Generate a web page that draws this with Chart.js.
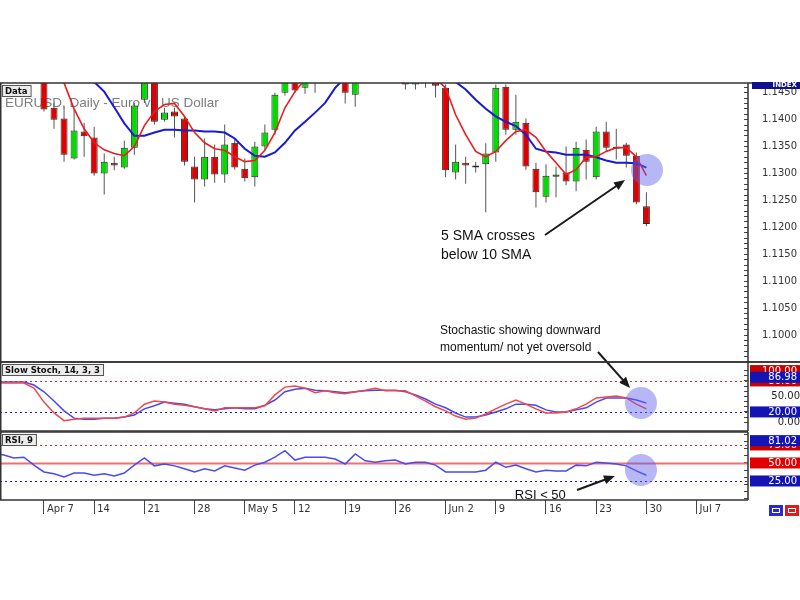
<!DOCTYPE html>
<html>
<head>
<meta charset="utf-8">
<script src="https://cdn.jsdelivr.net/npm/chart.js@4.4.1/dist/chart.umd.min.js"></script>
<style>
  html, body { margin: 0; padding: 0; background: #fff; }
  #wrap { position: relative; width: 800px; height: 600px; }
  .pane { position: absolute; left: 0; width: 800px; }
  /* panes are taller than their plot areas; layout padding puts the plot where it belongs */
  #mainBox { top: 43px; height: 357px; z-index: 3; }
  #stochBox { top: 322px; height: 149px; z-index: 1; }
  #rsiBox { top: 392px; height: 141px; z-index: 2; }
</style>
</head>
<body>
<div id="wrap">
  <div class="pane" id="mainBox"><canvas id="mainChart"></canvas></div>
  <div class="pane" id="stochBox"><canvas id="stochChart"></canvas></div>
  <div class="pane" id="rsiBox"><canvas id="rsiChart"></canvas></div>
</div>
<script>
// trading day index of the first value below (Apr 7 = day 0)
const firstDay = -5;

const weekIdx = [0, 5, 10, 15, 20, 25, 30, 35, 40, 45, 50, 55, 60, 65];
const weekLabels = ['Apr 7', '14', '21', '28', 'May 5', '12', '19', '26', 'Jun 2', '9', '16', '23', '30', 'Jul 7'];
const priceLabels = ['1.1000', '1.1050', '1.1100', '1.1150', '1.1200', '1.1250', '1.1300', '1.1350', '1.1400', '1.1450'];

const opens = [
  1.1510, 1.1520, 1.1530, 1.1515, 1.1525, 1.1495, 1.1422, 1.1402, 1.1328, 1.1378,
  1.1367, 1.1300, 1.1320, 1.1311, 1.1348, 1.1437, 1.1490, 1.1400, 1.1415, 1.1402,
  1.1313, 1.1289, 1.1331, 1.1298, 1.1357, 1.1309, 1.1293, 1.1350, 1.1381, 1.1450,
  1.1482, 1.1459, 1.1490, 1.1485, 1.1500, 1.1510, 1.1446, 1.1475, 1.1490, 1.1505,
  1.1495, 1.1478, 1.1465, 1.1480, 1.1490, 1.1459, 1.1302, 1.1320, 1.1313, 1.1317,
  1.1339, 1.1461, 1.1381, 1.1394, 1.1309, 1.1257, 1.1294, 1.1302, 1.1285, 1.1344,
  1.1293, 1.1378, 1.1348, 1.1354, 1.1333, 1.1239
];
const highs = [
  1.1535, 1.1540, 1.1540, 1.1535, 1.1530, 1.1500, 1.1431, 1.1424, 1.1420, 1.1394,
  1.1387, 1.1337, 1.1331, 1.1361, 1.1431, 1.1500, 1.1495, 1.1422, 1.1422, 1.1406,
  1.1331, 1.1365, 1.1354, 1.1391, 1.1363, 1.1328, 1.1359, 1.1391, 1.1450, 1.1485,
  1.1490, 1.1492, 1.1495, 1.1510, 1.1525, 1.1515, 1.1480, 1.1500, 1.1512, 1.1515,
  1.1505, 1.1485, 1.1490, 1.1490, 1.1495, 1.1465, 1.1354, 1.1331, 1.1322, 1.1356,
  1.1465, 1.1465, 1.1446, 1.1402, 1.1320, 1.1317, 1.1313, 1.1350, 1.1359, 1.1363,
  1.1387, 1.1396, 1.1383, 1.1357, 1.1339, 1.1265
];
const lows = [
  1.1500, 1.1510, 1.1505, 1.1505, 1.1485, 1.1415, 1.1383, 1.1322, 1.1326, 1.1331,
  1.1296, 1.1261, 1.1306, 1.1309, 1.1335, 1.1431, 1.1391, 1.1396, 1.1367, 1.1315,
  1.1246, 1.1276, 1.1283, 1.1283, 1.1307, 1.1285, 1.1276, 1.1344, 1.1372, 1.1445,
  1.1450, 1.1448, 1.1450, 1.1475, 1.1490, 1.1430, 1.1424, 1.1470, 1.1480, 1.1485,
  1.1475, 1.1456, 1.1456, 1.1459, 1.1441, 1.1293, 1.1289, 1.1281, 1.1302, 1.1228,
  1.1322, 1.1372, 1.1372, 1.1307, 1.1237, 1.1246, 1.1256, 1.1278, 1.1267, 1.1289,
  1.1289, 1.1341, 1.1326, 1.1311, 1.1243, 1.1202
];
const closes = [
  1.1520, 1.1530, 1.1515, 1.1525, 1.1495, 1.1419, 1.1400, 1.1335, 1.1380, 1.1369,
  1.1300, 1.1322, 1.1315, 1.1348, 1.1426, 1.1480, 1.1396, 1.1413, 1.1406, 1.1322,
  1.1289, 1.1331, 1.1298, 1.1354, 1.1311, 1.1291, 1.1350, 1.1376, 1.1446, 1.1478,
  1.1454, 1.1485, 1.1478, 1.1500, 1.1520, 1.1450, 1.1475, 1.1490, 1.1505, 1.1495,
  1.1490, 1.1465, 1.1480, 1.1478, 1.1463, 1.1306, 1.1322, 1.1315, 1.1311, 1.1337,
  1.1459, 1.1381, 1.1396, 1.1313, 1.1265, 1.1296, 1.1298, 1.1285, 1.1348, 1.1322,
  1.1378, 1.1348, 1.1346, 1.1333, 1.1246, 1.1206
];
const sma5 = [
  1.1530, 1.1525, 1.1520, 1.1515, 1.1505, 1.1495, 1.1482, 1.1468, 1.1420, 1.1383,
  1.1357, 1.1344, 1.1337, 1.1333, 1.1350, 1.1389, 1.1415, 1.1428, 1.1430, 1.1406,
  1.1376, 1.1357, 1.1346, 1.1343, 1.1331, 1.1322, 1.1324, 1.1343, 1.1376, 1.1422,
  1.1452, 1.1475, 1.1485, 1.1490, 1.1495, 1.1495, 1.1490, 1.1488, 1.1490, 1.1492,
  1.1490, 1.1485, 1.1482, 1.1480, 1.1476, 1.1459, 1.1409, 1.1372, 1.1341, 1.1331,
  1.1341, 1.1361, 1.1378, 1.1381, 1.1367, 1.1341, 1.1320, 1.1298, 1.1307, 1.1330,
  1.1331, 1.1341, 1.1348, 1.1348, 1.1331, 1.1296
];
const sma10 = [
  1.1570, 1.1560, 1.1550, 1.1540, 1.1530, 1.1518, 1.1508, 1.1498, 1.1490, 1.1480,
  1.1470, 1.1452, 1.1423, 1.1393, 1.1370, 1.1370, 1.1376, 1.1381, 1.1381, 1.1380,
  1.1380, 1.1378, 1.1378, 1.1376, 1.1365, 1.1346, 1.1333, 1.1331, 1.1339, 1.1357,
  1.1380, 1.1396, 1.1413, 1.1431, 1.1459, 1.1478, 1.1490, 1.1498, 1.1505, 1.1510,
  1.1512, 1.1510, 1.1505, 1.1498, 1.1490, 1.1480, 1.1470, 1.1456, 1.1437, 1.1420,
  1.1406, 1.1396, 1.1388, 1.1372, 1.1346, 1.1341, 1.1339, 1.1335, 1.1335, 1.1335,
  1.1330, 1.1324, 1.1320, 1.1320, 1.1319, 1.1311
];
const stochK = [
  76, 76, 76, 76, 66, 39, 18, 3, 6, 8,
  8, 8, 8, 10, 18, 35, 41, 39, 35, 33,
  30, 26, 22, 28, 28, 28, 28, 32, 53, 68,
  70, 66, 57, 61, 57, 55, 59, 62, 66, 61,
  61, 61, 51, 41, 30, 22, 12, 6, 8, 16,
  26, 35, 43, 35, 26, 18, 18, 20, 26, 35,
  47, 49, 51, 47, 35, 26
];
const stochD = [
  78, 78, 78, 78, 72, 59, 41, 22, 8, 6,
  6, 8, 8, 10, 14, 26, 32, 39, 37, 35,
  30, 26, 24, 26, 28, 26, 26, 33, 43, 59,
  64, 66, 62, 61, 59, 57, 59, 61, 62, 62,
  62, 59, 53, 45, 35, 28, 18, 10, 10, 14,
  20, 26, 35, 35, 33, 24, 20, 20, 24, 28,
  39, 47, 47, 47, 43, 37
];
const rsi = [
  64, 61, 57, 58, 47, 37.5, 35, 30.5, 36, 36,
  33, 35, 32, 36, 47, 57, 46, 48.6, 46, 42,
  37.5, 42, 39, 46, 43, 40, 47, 51, 58, 67,
  54, 58, 58, 58, 55.5, 48.6, 62.5, 53, 51, 53,
  54, 48.6, 51, 51, 47, 37.5, 37.5, 37.5, 37.5, 40,
  51, 44, 47, 42, 37.5, 40, 39, 39, 47, 46,
  51, 50, 48.6, 46, 39, 33
];

const stochLevels = [80, 20];
const rsiLevels = [75, 50, 25];
const stochTickVals = [0, 10, 20, 30, 40, 50, 60, 70, 80, 90, 100];
const stochLabelVals = [50, 0];
const stochLabelText = ['50.00', '0.00'];
const rsiTickVals = [0, 10, 20, 30, 40, 50, 60, 70, 80, 90];
const stochBoxVals = [100, 80, 86.98, 20];
const stochBoxText = ['100.00', '80.00', '86.98', '20.00'];
const rsiBoxVals = [75, 81.02, 50, 25];
const rsiBoxText = ['75.00', '81.02', '50.00', '25.00'];

const chartTitle = 'EURUSD, Daily - Euro vs US Dollar';
const smaNote = ['5 SMA crosses', 'below 10 SMA'];
const stochNote = ['Stochastic showing downward', 'momentum/ not yet oversold'];
const rsiNote = 'RSI < 50';

const X_MIN = -4.38, X_MAX = 70.12;
const FONT = 'DejaVu Sans';
const RED_BOX = '#c80000', BLUE_BOX = '#1414b4';

const series = arr => arr.map((v, i) => ({ x: firstDay + i, y: v }));
const at = (chart, i, v) => ({ x: chart.scales.x.getPixelForValue(i), y: chart.scales.y.getPixelForValue(v) });

function xAxis(show) {
  return {
    type: 'linear', min: X_MIN, max: X_MAX, offset: false, display: show,
    afterBuildTicks: s => { s.ticks = weekIdx.map(v => ({ value: v })); },
    afterFit: s => { if (show) s.height = 23; },
    grid: { drawOnChartArea: false, offset: false, tickLength: 14, color: '#444' },
    border: { display: false },
    ticks: {
      autoSkip: false, maxRotation: 0, align: 'start', labelOffset: 3, padding: -11,
      color: '#333', font: { family: FONT, size: 10 },
      callback: v => { const k = weekIdx.indexOf(v); return k < 0 ? '' : weekLabels[k]; }
    }
  };
}

function yAxis(min, max, tickVals, label, padding) {
  return {
    position: 'right', min: min, max: max,
    afterFit: s => { s.width = 52; },
    afterBuildTicks: s => { s.ticks = tickVals.map(v => ({ value: v })); },
    grid: { drawOnChartArea: false, tickLength: -4, color: '#444' },
    border: { display: false },
    ticks: { autoSkip: false, padding: padding, crossAlign: 'far', color: '#222', font: { family: FONT, size: 10 }, callback: label }
  };
}

function drawBoxLabel(ctx, text, x, y) {
  ctx.font = 'bold 8.5px "DejaVu Sans"';
  const w = ctx.measureText(text).width + 6, h = 11;
  ctx.fillStyle = '#ececec';
  ctx.fillRect(x, y, w, h);
  ctx.strokeStyle = '#555';
  ctx.lineWidth = 1;
  ctx.strokeRect(x + 0.5, y + 0.5, w, h);
  ctx.fillStyle = '#111';
  ctx.textAlign = 'left';
  ctx.textBaseline = 'middle';
  ctx.fillText(text, x + 3, y + h / 2 + 1);
}

function drawArrow(ctx, p, q) {
  const ang = Math.atan2(q.y - p.y, q.x - p.x), L = 11, W = 4.5;
  const c = Math.cos(ang), s = Math.sin(ang);
  ctx.strokeStyle = '#1a1a1a';
  ctx.fillStyle = '#1a1a1a';
  ctx.lineWidth = 2;
  ctx.beginPath();
  ctx.moveTo(p.x, p.y);
  ctx.lineTo(q.x - L * 0.8 * c, q.y - L * 0.8 * s);
  ctx.stroke();
  ctx.beginPath();
  ctx.moveTo(q.x, q.y);
  ctx.lineTo(q.x - L * c + W * s, q.y - L * s - W * c);
  ctx.lineTo(q.x - L * c - W * s, q.y - L * s + W * c);
  ctx.closePath();
  ctx.fill();
}

function drawCircle(ctx, p) {
  ctx.fillStyle = 'rgba(95, 95, 235, 0.45)';
  ctx.beginPath();
  ctx.arc(p.x, p.y, 16, 0, Math.PI * 2);
  ctx.fill();
}

const frame = {
  id: 'frame',
  afterDraw(chart, args, o) {
    const { ctx, chartArea: a, width } = chart;
    ctx.save();
    ctx.strokeStyle = '#333';
    ctx.lineWidth = 1.5;
    ctx.beginPath();
    ctx.moveTo(0, a.top); ctx.lineTo(o.fullTop ? width : a.right, a.top);
    ctx.moveTo(0, a.bottom); ctx.lineTo(o.fullBottom ? width : a.right, a.bottom);
    ctx.moveTo(a.left + 0.75, a.top); ctx.lineTo(a.left + 0.75, a.bottom);
    ctx.moveTo(a.right, a.top); ctx.lineTo(a.right, a.bottom);
    ctx.stroke();
    if (o.label) drawBoxLabel(ctx, o.label, a.left + 2, a.top + 2);
    ctx.restore();
  }
};

const levels = {
  id: 'levels',
  beforeDatasetsDraw(chart, args, o) {
    const { ctx, chartArea: a } = chart;
    ctx.save();
    o.values.forEach((v, k) => {
      const st = o.styles[k];
      const py = Math.round(chart.scales.y.getPixelForValue(v)) + 0.5;
      ctx.strokeStyle = st.color;
      ctx.lineWidth = st.width;
      ctx.setLineDash(st.dash);
      ctx.beginPath();
      ctx.moveTo(a.left, py);
      ctx.lineTo(a.right, py);
      ctx.stroke();
    });
    ctx.restore();
  }
};

const axisBoxes = {
  id: 'axisBoxes',
  afterDraw(chart, args, o) {
    const { ctx, chartArea: a, width } = chart;
    ctx.save();
    ctx.font = '10px "DejaVu Sans"';
    ctx.textAlign = 'right';
    ctx.textBaseline = 'middle';
    o.values.forEach((v, k) => {
      const py = chart.scales.y.getPixelForValue(v);
      ctx.fillStyle = o.colors[k];
      ctx.fillRect(a.right + 2, py - 5.5, width - a.right - 2, 11);
      ctx.fillStyle = '#fff';
      ctx.fillText(o.texts[k], width - 3, py + 0.5);
    });
    ctx.restore();
  }
};

const mainDecor = {
  id: 'mainDecor',
  beforeDatasetsDraw(chart) {
    const { ctx, chartArea: a } = chart;
    ctx.save();
    ctx.font = '13.5px "Liberation Sans"';
    ctx.fillStyle = '#7d7d7d';
    ctx.textBaseline = 'alphabetic';
    ctx.fillText(chartTitle, a.left + 5, a.top + 24);
    ctx.restore();
  },
  afterDatasetsDraw(chart) {
    const { ctx } = chart;
    ctx.save();
    drawCircle(ctx, at(chart, 60.06, 1.13065));
    ctx.fillStyle = '#111';
    ctx.textAlign = 'left';
    ctx.textBaseline = 'middle';
    ctx.font = '14px "Liberation Sans"';
    ctx.fillText(smaNote[0], at(chart, 39.54, 0).x, at(chart, 0, 1.11839).y);
    ctx.fillText(smaNote[1], at(chart, 39.54, 0).x, at(chart, 0, 1.11487).y);
    ctx.font = '12px "Liberation Sans"';
    ctx.fillText(stochNote[0], at(chart, 39.44, 0).x, at(chart, 0, 1.10076).y);
    ctx.fillText(stochNote[1], at(chart, 39.44, 0).x, at(chart, 0, 1.09760).y);
    drawArrow(ctx, at(chart, 49.9, 1.11858), at(chart, 57.87, 1.12879));
    drawArrow(ctx, at(chart, 55.18, 1.09686), at(chart, 58.37, 1.09018));
    ctx.restore();
  },
  afterDraw(chart) {
    const { ctx, chartArea: a, width } = chart;
    ctx.save();
    ctx.fillStyle = '#10108c';
    ctx.fillRect(a.right + 4, a.top - 1, width - a.right - 4, 7);
    ctx.fillStyle = '#fff';
    ctx.font = 'bold 7px "DejaVu Sans"';
    ctx.textAlign = 'right';
    ctx.textBaseline = 'middle';
    ctx.fillText('INDEX', width - 3, a.top + 2.5);
    ctx.restore();
  }
};

const stochDecor = {
  id: 'stochDecor',
  afterDatasetsDraw(chart) {
    chart.ctx.save();
    drawCircle(chart.ctx, at(chart, 59.46, 37.3));
    chart.ctx.restore();
  }
};

const rsiDecor = {
  id: 'rsiDecor',
  afterDatasetsDraw(chart) {
    const { ctx } = chart;
    ctx.save();
    drawCircle(ctx, at(chart, 59.46, 40.2));
    ctx.fillStyle = '#111';
    ctx.font = '13px "Liberation Sans"';
    ctx.textAlign = 'left';
    ctx.textBaseline = 'middle';
    const p = at(chart, 46.9, 5.5);
    ctx.fillText(rsiNote, p.x, p.y);
    drawArrow(ctx, at(chart, 53.09, 12.5), at(chart, 56.87, 31.9));
    ctx.restore();
  },
  afterDraw(chart) {
    const { ctx, chartArea: a, width } = chart;
    const x0 = width - 31, y0 = a.bottom + 5;
    ctx.save();
    ctx.fillStyle = '#2a2ad0';
    ctx.fillRect(x0, y0, 14, 11);
    ctx.fillStyle = '#d42020';
    ctx.fillRect(x0 + 16, y0, 14, 11);
    ctx.strokeStyle = '#fff';
    ctx.lineWidth = 1;
    ctx.strokeRect(x0 + 3.5, y0 + 3.5, 7, 4);
    ctx.strokeRect(x0 + 19.5, y0 + 3.5, 7, 4);
    ctx.restore();
  }
};

const common = {
  responsive: true,
  maintainAspectRatio: false,
  animation: false,
  events: [],
  plugins: { legend: { display: false }, tooltip: { enabled: false } }
};

const bodyColors = opens.map((o, i) => closes[i] >= o ? '#00dc00' : '#e00000');

new Chart(document.getElementById('mainChart'), {
  type: 'bar',
  data: {
    datasets: [
      { type: 'line', label: '5 SMA', data: series(sma5), borderColor: '#ec1c1c', borderWidth: 1.6, pointRadius: 0, order: -2, clip: 0 },
      { type: 'line', label: '10 SMA', data: series(sma10), borderColor: '#1a1ad6', borderWidth: 2, pointRadius: 0, order: -1, clip: 0 },
      {
        label: 'body', data: opens.map((o, i) => ({ x: firstDay + i, y: [o, closes[i]] })),
        backgroundColor: bodyColors, borderColor: '#2a2a2a', borderWidth: 1, borderSkipped: false,
        grouped: false, categoryPercentage: 1, barPercentage: 0.7, maxBarThickness: 7, minBarLength: 2, order: 0, clip: 0
      },
      {
        label: 'wick', data: lows.map((l, i) => ({ x: firstDay + i, y: [l, highs[i]] })),
        backgroundColor: '#555', borderWidth: 0,
        grouped: false, categoryPercentage: 1, barPercentage: 0.1, maxBarThickness: 1, order: 1, clip: 0
      }
    ]
  },
  options: {
    ...common,
    layout: { padding: { top: 40, bottom: 38, left: 0, right: 0 } },
    plugins: { ...common.plugins, frame: { fullTop: true, fullBottom: true, label: 'Data' } },
    scales: {
      x: xAxis(false),
      y: {
        position: 'right', min: 1.0950, max: 1.1468, stacked: false,
        afterFit: s => { s.width = 52; },
        afterBuildTicks: s => {
          const t = [];
          for (let k = 1096; k <= 1146; k++) t.push({ value: k / 1000 });
          s.ticks = t;
        },
        grid: { drawOnChartArea: false, tickLength: -4, color: '#444' },
        border: { display: false },
        ticks: {
          autoSkip: false, padding: 18, color: '#333', font: { family: FONT, size: 10 },
          callback: v => { const t = v.toFixed(4); return priceLabels.includes(t) ? t : ''; }
        }
      }
    }
  },
  plugins: [frame, mainDecor]
});

new Chart(document.getElementById('stochChart'), {
  type: 'line',
  data: {
    datasets: [
      { label: '%K', data: series(stochK), borderColor: '#f04848', borderWidth: 1.5, pointRadius: 0, clip: 0 },
      { label: '%D', data: series(stochD), borderColor: '#4848f0', borderWidth: 1.5, pointRadius: 0, clip: 0 }
    ]
  },
  options: {
    ...common,
    layout: { padding: { top: 40, bottom: 40, left: 0, right: 0 } },
    plugins: {
      ...common.plugins,
      frame: { fullTop: true, fullBottom: false, label: 'Slow Stoch, 14, 3, 3' },
      levels: { values: stochLevels, styles: [{ color: '#d03030', width: 1, dash: [2, 3] }, { color: '#2020b0', width: 1.2, dash: [2, 3] }] },
      axisBoxes: { values: stochBoxVals, texts: stochBoxText, colors: [RED_BOX, RED_BOX, BLUE_BOX, BLUE_BOX] }
    },
    scales: {
      x: xAxis(false),
      y: yAxis(-16.9, 116.6, stochTickVals, v => { const k = stochLabelVals.indexOf(v); return k < 0 ? '' : stochLabelText[k]; }, 25)
    }
  },
  plugins: [levels, frame, axisBoxes, stochDecor]
});

new Chart(document.getElementById('rsiChart'), {
  type: 'line',
  data: {
    datasets: [
      { label: 'RSI', data: series(rsi), borderColor: '#4a4aee', borderWidth: 1.5, pointRadius: 0, clip: 0 }
    ]
  },
  options: {
    ...common,
    layout: { padding: { top: 40, bottom: 10, left: 0, right: 0 } },
    plugins: {
      ...common.plugins,
      frame: { fullTop: false, fullBottom: false, label: 'RSI, 9' },
      levels: {
        values: rsiLevels,
        styles: [{ color: '#d03030', width: 1, dash: [2, 3] }, { color: '#f07070', width: 2, dash: [] }, { color: '#2020b0', width: 1.2, dash: [2, 3] }]
      },
      axisBoxes: { values: rsiBoxVals, texts: rsiBoxText, colors: [RED_BOX, BLUE_BOX, '#e00000', BLUE_BOX] }
    },
    scales: {
      x: xAxis(true),
      y: yAxis(-1.4, 93, rsiTickVals, () => '', 25)
    }
  },
  plugins: [levels, frame, axisBoxes, rsiDecor]
});
</script>
</body>
</html>
